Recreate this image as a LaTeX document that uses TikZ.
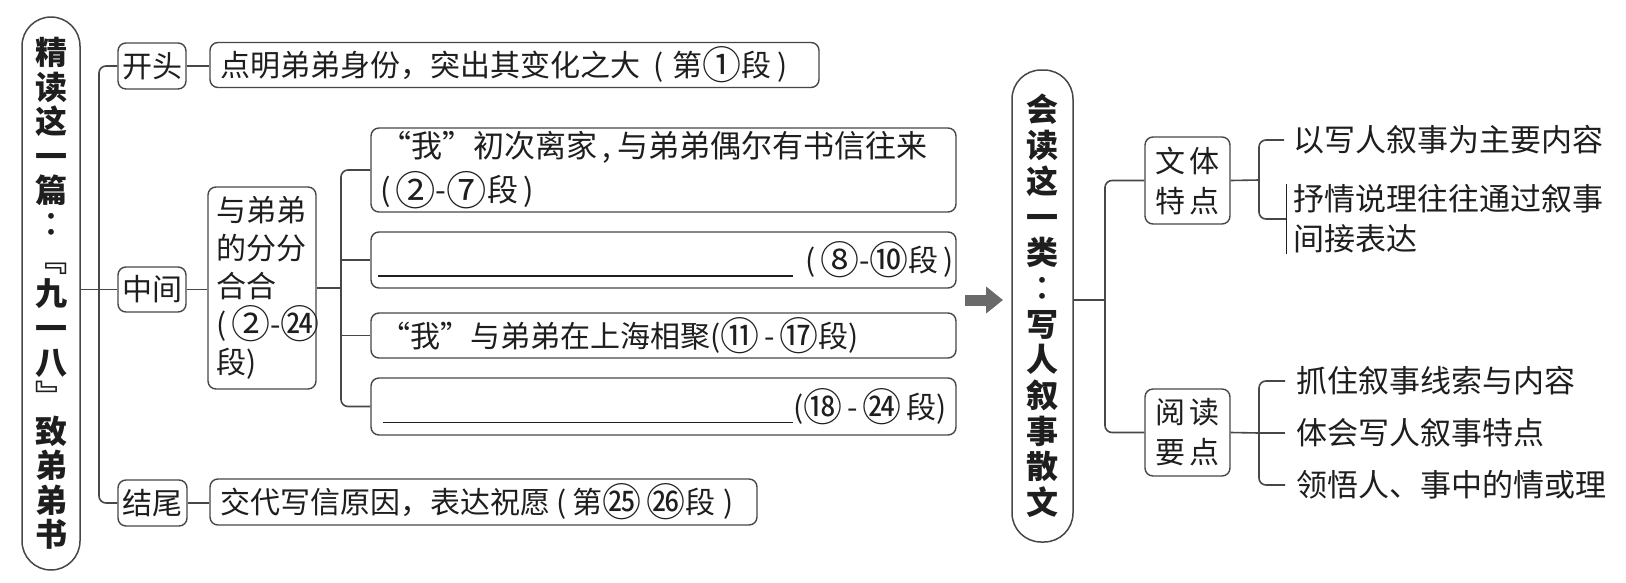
\documentclass[tikz,border=0pt]{standalone}
\usepackage{fontspec}
\setmainfont{Noto Sans CJK SC}
\usepackage{tikz}
\usetikzlibrary{arrows.meta}

\definecolor{ink}{HTML}{1E1E1E}
\definecolor{rulegray}{HTML}{474747}
\definecolor{arrowgray}{HTML}{6A6A6A}

% circled paragraph numbers, a bit larger than the font gives them
\newcommand{\cnum}[1]{\raisebox{-0.11em}{\scalebox{1.3}{#1}}}

\tikzset{
  box/.style={draw=rulegray, line width=1.4pt, rounded corners=8pt, inner sep=0pt,
    text=ink, font=\fontsize{30}{38}\selectfont},
  wide/.style={box, inner xsep=#1, align=left},
  pill/.style={draw=rulegray, line width=1.5pt, rounded corners=29pt, inner sep=0pt,
    align=center, text=ink},
  conn/.style={draw=rulegray, line width=1.6pt, rounded corners=7pt},
  item/.style={anchor=west, inner ysep=0pt, inner xsep=9pt, text=ink,
    font=\fontsize{31}{40}\selectfont, align=left},
  fatarrow/.style={draw=arrowgray, line width=11pt, -{Triangle[length=17pt,width=26pt]}},
}

\begin{document}
\begin{tikzpicture}[x=1pt, y=-1pt]

\fill[white] (0,0) rectangle (1626,582);
\useasboundingbox (0,0) rectangle (1626,582);

% left title
\node[pill, minimum width=58pt, minimum height=553pt, font=\bfseries\fontsize{32}{34.4}\selectfont] (jd) at (51,293.5)
  {精\\读\\这\\一\\篇\\︰\\﹃\\九\\一\\八\\﹄\\致\\弟\\弟\\书};

% first level
\node[box, minimum width=68pt, minimum height=46pt] (kt) at (152,66) {开头};
\node[box, minimum width=68pt, minimum height=45pt] (zj) at (152,289.5) {中间};
\node[box, minimum width=69pt, minimum height=46pt] (jw) at (152.5,503) {结尾};

\node[wide=10pt, text width=589pt, minimum height=45pt] (kt-d) at (514.5,65)
  {\mbox{点明弟弟身份，突出其变化之大\hspace{14pt}(\hspace{8pt}第\cnum{①}段\hspace{6pt})}};
\node[wide=8pt, text width=92pt, minimum height=202pt] (zj-d) at (262,288)
  {与弟弟\\的分分\\合合\\\mbox{(\,\cnum{②}-\cnum{㉔}}\\段)};
\node[wide=10pt, text width=527pt, minimum height=46pt] (jw-d) at (483.5,502)
  {\mbox{交代写信原因，表达祝愿\hspace{6pt}(\hspace{6pt}第\cnum{㉕}\,\cnum{㉖}段\hspace{8pt})}};

% second level
\node[wide=9pt, text width=567pt, minimum height=84pt, font=\fontsize{31}{44}\selectfont] (b1) at (663.5,170)
  {“我”初次离家\hspace{6pt},\hspace{6pt}与弟弟偶尔有书信往来\\\mbox{(\,\cnum{②}-\cnum{⑦}段\,)}};
\node[wide=7pt, text width=571pt, minimum height=56pt] (b2) at (663.5,260)
  {\mbox{\rule[-5pt]{415pt}{1.4pt}\hspace{12pt}(\,\cnum{⑧}-\cnum{⑩}段\,)}};
\node[wide=9pt, text width=567pt, minimum height=45pt] (b3) at (663.5,335.5)
  {\mbox{“我”与弟弟在上海相聚(\cnum{⑪}\,-\,\cnum{⑰}段)}};
\node[wide=12pt, text width=561pt, minimum height=57pt] (b4) at (663.5,406.5)
  {\mbox{\rule[-5pt]{410pt}{1.4pt}(\cnum{⑱}\,-\,\cnum{㉔}\,段)}};

% right title
\node[pill, minimum width=61pt, minimum height=472pt, font=\bfseries\fontsize{32}{35.7}\selectfont] (hd) at (1042.5,306)
  {会\\读\\这\\一\\类\\︰\\写\\人\\叙\\事\\散\\文};

\node[box, minimum width=85pt, minimum height=87pt, align=center, font=\fontsize{30}{40}\selectfont] (tz) at (1187.5,180.5) {文\,体\\特\,点};
\node[box, minimum width=85pt, minimum height=87pt, align=center, font=\fontsize{30}{40}\selectfont] (yd) at (1187.5,432.5) {阅\,读\\要\,点};

\node[item] (tz-1) at (1284,140) {以写人叙事为主要内容};
\node[item, inner xsep=7pt] (tz-2) at (1286,219) {抒情说理往往通过叙事\\间接表达};
\node[item, inner xsep=11pt] (yd-1) at (1285,381) {抓住叙事线索与内容};
\node[item, inner xsep=11pt] (yd-2) at (1285,433) {体会写人叙事特点};
\node[item, inner xsep=11pt] (yd-3) at (1285,485) {领悟人、事中的情或理};

\coordinate (trunk) at (99,289);
\coordinate (sub) at (341,288);
\coordinate (rtrunk) at (1105,300);
\coordinate (bk1) at (1259,180);
\coordinate (bk2) at (1259,433);
\coordinate (arr-s) at (965,300);
\coordinate (arr-e) at (1003,300);

% left tree
\draw[conn] (kt.west) -| (trunk) |- (jw.west);
\draw[conn] (jd.east |- zj.west) -- (zj.west);
\draw[conn] (kt.east) -- (kt.east -| kt-d.west);
\draw[conn] (zj.east) -- (zj.east -| zj-d.west);
\draw[conn] (jw.east) -- (jw.east -| jw-d.west);
\draw[conn] (zj-d.east) -- (zj-d.east -| sub);
\draw[conn] (b1.west) -| (sub) |- (b4.west);
\draw[conn] (b2.west) -- (b2.west -| sub);
\draw[conn] (b3.west) -- (b3.west -| sub);

\draw[fatarrow] (arr-s) -- (arr-e);

% right tree
\draw[conn] (hd.east |- rtrunk) -- (rtrunk);
\draw[conn] (tz.west) -| (rtrunk) |- (yd.west);
\draw[conn] (tz.east) -- (bk1);
\draw[conn] (tz-1.west) -| (bk1) |- (tz-2.west);
\draw[ink, line width=1pt] (tz-2.north west) -- (tz-2.south west);
\draw[conn] (yd.east) -- (bk2);
\draw[conn] (yd-1.west) -| (bk2) |- (yd-3.west);
\draw[conn] (yd-2.west) -- (bk2);

\end{tikzpicture}
\end{document}
